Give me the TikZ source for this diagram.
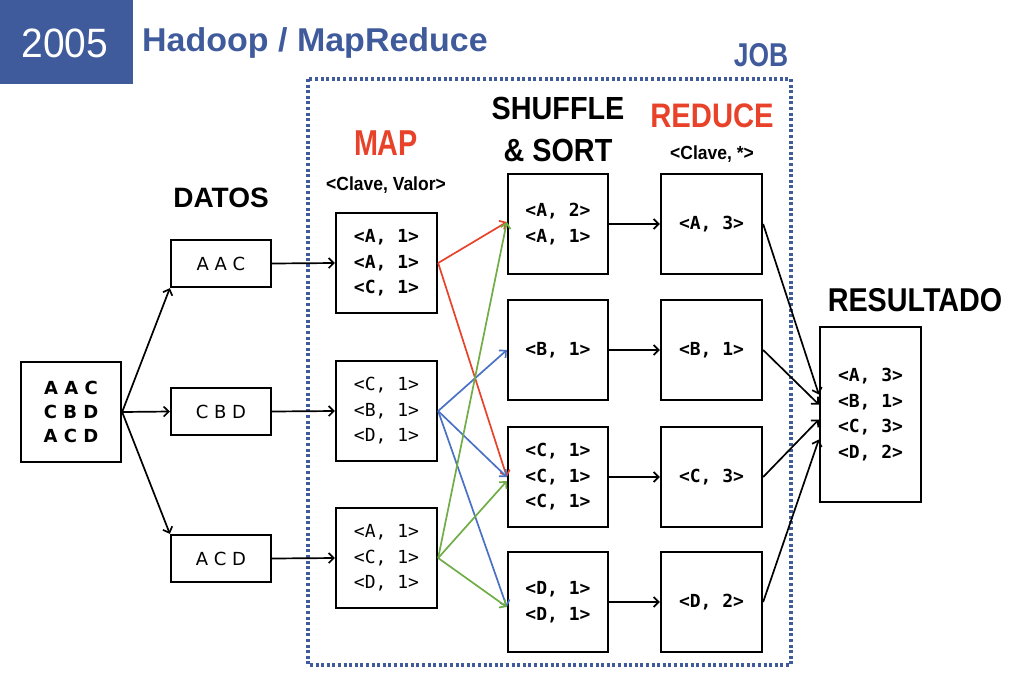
\documentclass[tikz,border=0pt]{standalone}
\usepackage{fontspec}
\usepackage{graphicx}
\setmainfont{Liberation Sans}
\newfontfamily\monofont{DejaVu Sans Mono}
\newfontfamily\dfont{DejaVu Sans}
\usetikzlibrary{arrows.meta,calc}
\definecolor{tblue}{HTML}{3F5B9B}
\definecolor{hred}{HTML}{E8432A}
\definecolor{ablue}{HTML}{4A72C4}
\definecolor{agreen}{HTML}{70AD47}
\newcommand{\hd}[3]{{\fontsize{#1}{#1}\selectfont\bfseries\scalebox{#2}[1]{#3}}}
\tikzset{
  box/.style={draw=black, line width=2.3pt, inner sep=0pt, minimum width=100pt, minimum height=100pt, align=center},
  kv/.style={font=\monofont\bfseries\fontsize{18}{25.5}\selectfont},
  kvl/.style={font=\monofont\fontsize{18}{25.5}\selectfont},
  dat/.style={box, minimum height=47pt, font=\dfont\fontsize{18}{22}\selectfont},
  arr/.style={-{Straight Barb[length=5pt,width=10pt]}, line width=1.7pt},
  hnode/.style={inner sep=0pt, align=center},
}
\begin{document}
\begin{tikzpicture}[x=1pt,y=-1pt]
\useasboundingbox (0,0) rectangle (1024,683);
% title
\fill[tblue] (0,0) rectangle (133,84);
\node[hnode, text=white] (year) at (65,43) {\fontsize{41}{41}\selectfont\scalebox{0.95}[1]{2005}};
\node[hnode, anchor=west, text=tblue] (title) at (142,43) {\fontsize{33}{33}\selectfont\bfseries\scalebox{1.03}[1]{Hadoop / MapReduce}};
% job frame
\draw[tblue, line width=3.2pt, dash pattern=on 3pt off 2.6pt] (308,79) rectangle (791,665);
\node[hnode, text=tblue] (job) at (761,55) {\hd{33}{0.8}{JOB}};
% headings
\node[hnode] (hdatos) at (221,198) {\hd{28}{1}{DATOS}};
\node[hnode, text=hred] (hmap) at (386,143) {\hd{36}{0.8}{MAP}};
\node[hnode] (hcv) at (386,185) {\hd{19}{0.92}{<Clave, Valor>}};
\node[hnode] (hsh) at (558,108) {\hd{32}{0.9}{SHUFFLE}};
\node[hnode] (hso) at (558,150) {\hd{32}{0.9}{\& SORT}};
\node[hnode, text=hred] (hred) at (712,116) {\hd{34}{0.86}{REDUCE}};
\node[hnode] (hcs) at (712,154) {\hd{19}{0.92}{<Clave, *>}};
\node[hnode] (hres) at (915,300) {\hd{33}{0.87}{RESULTADO}};
% input
\node[box, font=\dfont\bfseries\fontsize{18}{24}\selectfont] (in) at (71,412) {A A C\\C B D\\A C D};
% data
\node[dat] (d1) at (221,263.5) {A A C};
\node[dat] (d2) at (221,411.5) {C B D};
\node[dat] (d3) at (221,558.5) {A C D};
% map
\node[box, kv, minimum width=101pt] (m1) at (386.5,263) {<A, 1>\\<A, 1>\\<C, 1>};
\node[box, kvl, minimum width=101pt] (m2) at (386.5,411) {<C, 1>\\<B, 1>\\<D, 1>};
\node[box, kvl, minimum width=101pt] (m3) at (386.5,558) {<A, 1>\\<C, 1>\\<D, 1>};
% shuffle
\node[box, kv] (s1) at (558,224) {<A, 2>\\<A, 1>};
\node[box, kv] (s2) at (558,350) {<B, 1>};
\node[box, kv] (s3) at (558,477) {<C, 1>\\<C, 1>\\<C, 1>};
\node[box, kv] (s4) at (558,602) {<D, 1>\\<D, 1>};
% reduce
\node[box, kv, minimum width=101pt] (r1) at (711.5,224) {<A, 3>};
\node[box, kv, minimum width=101pt] (r2) at (711.5,350) {<B, 1>};
\node[box, kv, minimum width=101pt] (r3) at (711.5,477) {<C, 3>};
\node[box, kv, minimum width=101pt] (r4) at (711.5,602) {<D, 2>};
% result
\node[box, kv, minimum width=101pt, minimum height=175pt] (res) at (870.5,414.5) {<A, 3>\\<B, 1>\\<C, 3>\\<D, 2>};
% arrows input -> data
\draw[arr] (in.east) -- (d1.south west);
\draw[arr] (in.east) -- (d2.west);
\draw[arr] (in.east) -- (d3.north west);
% data -> map
\draw[arr] (d1.east) -- (m1.west);
\draw[arr] (d2.east) -- (m2.west);
\draw[arr] (d3.east) -- (m3.west);
% map -> shuffle
\draw[arr, hred] (m1.east) -- ($(s1.west)+(0,-2)$);
\draw[arr, hred] (m1.east) -- (s3.west);
\draw[arr, ablue] (m2.east) -- (s2.west);
\draw[arr, ablue] (m2.east) -- (s3.west);
\draw[arr, ablue] (m2.east) -- ($(s4.west)+(0,5)$);
\draw[arr, agreen] (m3.east) -- ($(s1.west)+(0,-2)$);
\draw[arr, agreen] (m3.east) -- ($(s3.west)+(0,4)$);
\draw[arr, agreen] (m3.east) -- ($(s4.west)+(0,5)$);
% shuffle -> reduce
\draw[arr] (s1.east) -- (r1.west);
\draw[arr] (s2.east) -- (r2.west);
\draw[arr] (s3.east) -- (r3.west);
\draw[arr] (s4.east) -- (r4.west);
% reduce -> result
\draw[arr] (r1.east) -- ($(res.west)+(0,-20)$);
\draw[arr] (r2.east) -- ($(res.west)+(0,-10)$);
\draw[arr] (r3.east) -- ($(res.west)+(0,5)$);
\draw[arr] (r4.east) -- ($(res.west)+(0,25)$);
\end{tikzpicture}
\end{document}
